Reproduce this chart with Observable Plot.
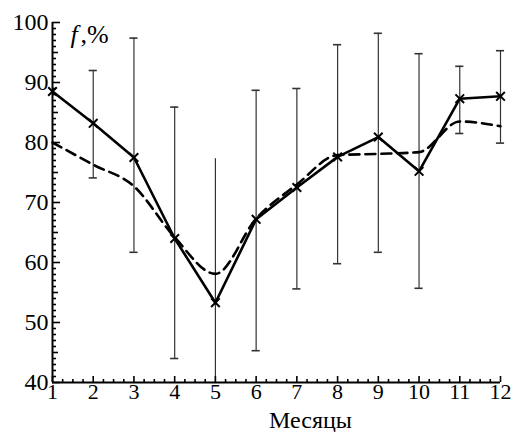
<!DOCTYPE html>
<html>
<head>
<meta charset="utf-8">
<script src="https://cdn.jsdelivr.net/npm/d3@7"></script>
<script src="https://cdn.jsdelivr.net/npm/@observablehq/plot@0.6"></script>
<style>
  html, body { margin: 0; padding: 0; background: #fff; }
</style>
</head>
<body>
<div id="chart"></div>
<script>
const months = [1, 2, 3, 4, 5, 6, 7, 8, 9, 10, 11, 12];
const measured = [88.5, 83.2, 77.5, 64.0, 53.3, 67.2, 72.5, 77.6, 80.9, 75.2, 87.3, 87.7];
const model = [80.0, 76.3, 72.7, 64.2, 58.1, 67.3, 73.0, 77.9, 78.1, 78.4, 83.5, 82.7];
const errLow = [null, 74.1, 61.7, 44.0, 40.0, 45.3, 55.6, 59.8, 61.7, 55.7, 81.5, 79.9];
const errHigh = [null, 92.0, 97.4, 85.9, 77.3, 88.7, 89.0, 96.3, 98.2, 94.8, 92.7, 95.3];
const yTickLabels = [40, 50, 60, 70, 80, 90, 100];
const xTickLabels = [1, 2, 3, 4, 5, 6, 7, 8, 9, 10, 11, 12];
const xLabel = "Месяцы";
const yLabelItalic = "f";
const yLabelRest = ",%";

const rows = months.map((m, i) => ({m, meas: measured[i], mod: model[i], lo: errLow[i], hi: errHigh[i]}));
const bars = rows.filter(d => d.lo != null);
const capped = bars.filter(d => d.m !== 5);

const ff = "'Liberation Serif', 'DejaVu Serif', 'Noto Serif', 'Times New Roman', Times, serif";
const yMinor = d3.range(40, 101, 1).filter(v => v % 5 !== 0);
const yMid = d3.range(45, 100, 10);
const xMinor = d3.range(1, 12.001, 0.25).filter(v => Math.abs(v - Math.round(v)) > 1e-6);

const chart = Plot.plot({
  width: 512,
  height: 432,
  marginLeft: 52,
  marginRight: 12,
  marginTop: 22,
  marginBottom: 50,
  style: {background: "#fff", color: "#000", fontFamily: ff},
  x: {domain: [1, 12]},
  y: {domain: [40, 100]},
  marks: [
    Plot.ruleX(bars, {x: "m", y1: "lo", y2: "hi", stroke: "#333", strokeWidth: 1.2}),
    Plot.ruleY(capped, {y: "hi", x1: d => d.m - 0.1, x2: d => d.m + 0.1, stroke: "#333", strokeWidth: 1.6}),
    Plot.ruleY(capped, {y: "lo", x1: d => d.m - 0.1, x2: d => d.m + 0.1, stroke: "#333", strokeWidth: 1.6}),
    Plot.line(rows, {x: "m", y: "mod", stroke: "#000", strokeWidth: 2.6, strokeDasharray: "10,6", curve: "monotone-x"}),
    Plot.line(rows, {x: "m", y: "meas", stroke: "#000", strokeWidth: 2.6}),
    Plot.dot(rows, {x: "m", y: "meas", symbol: "times", r: 4, stroke: "#000", strokeWidth: 2}),
    Plot.ruleX([1], {stroke: "#000", strokeWidth: 2}),
    Plot.ruleY([40], {stroke: "#000", strokeWidth: 2}),
    Plot.axisY(yTickLabels, {tickSize: -8, tickFormat: () => "", label: null, strokeWidth: 1.6}),
    Plot.axisY(yMid, {tickSize: -6, tickFormat: () => "", label: null, strokeWidth: 1.6}),
    Plot.axisY(yMinor, {tickSize: -4, tickFormat: () => "", label: null, strokeWidth: 1.6}),
    Plot.axisY(yTickLabels, {tickSize: 0, tickPadding: 4, fontSize: 24, fontFamily: ff, label: null}),
    Plot.axisX(xTickLabels, {tickSize: -6, tickFormat: () => "", label: null, strokeWidth: 1.6}),
    Plot.axisX(xMinor, {tickSize: -3, tickFormat: () => "", label: null, strokeWidth: 1.6}),
    Plot.axisX(xTickLabels, {tickSize: 0, tickPadding: 1, fontSize: 22, fontFamily: ff, label: null}),
    Plot.text([xLabel], {frameAnchor: "bottom", lineAnchor: "top", dx: 34, dy: 28, fontSize: 24, fontFamily: ff, fill: "#000"}),
    Plot.text([yLabelItalic], {frameAnchor: "top-left", textAnchor: "start", lineAnchor: "top", dx: 18, dy: 2, fontSize: 26, fontFamily: ff, fontStyle: "italic", fill: "#000"}),
    Plot.text([yLabelRest], {frameAnchor: "top-left", textAnchor: "start", lineAnchor: "top", dx: 28, dy: 2, fontSize: 26, fontFamily: ff, fill: "#000"})
  ]
});
document.getElementById("chart").append(chart);
</script>
</body>
</html>
